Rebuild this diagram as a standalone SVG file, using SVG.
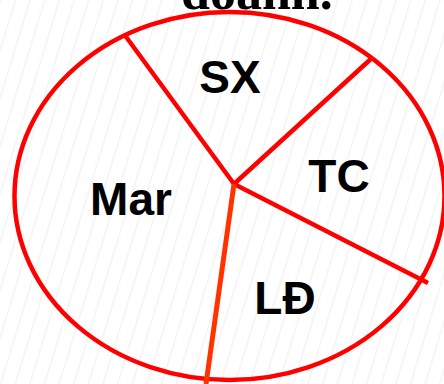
<svg xmlns="http://www.w3.org/2000/svg" width="444" height="384" viewBox="0 0 444 384">
<defs>
<pattern id="stripes" width="14" height="40" patternUnits="userSpaceOnUse" patternTransform="rotate(17)">
<rect width="14" height="40" fill="#ffffff"/>
<rect x="0" y="0" width="1.5" height="40" fill="#f3f3f3"/>
</pattern>
</defs>
<style>
.lbl{font-family:"Liberation Sans",Arial,sans-serif;font-weight:bold;font-size:46px;fill:#000;text-anchor:middle}
.seg{stroke:#ff0000;stroke-width:4.5;fill:none}
</style>
<rect width="444" height="384" fill="url(#stripes)"/>
<text x="181" y="9" font-family="'Liberation Serif','Times New Roman',serif" font-weight="bold" font-size="52" fill="#000">doanh.</text>
<g id="pie">
<ellipse cx="229.5" cy="196" rx="215" ry="184" fill="none" stroke="#ff0000" stroke-width="4.5"/>
</g>
<g id="connectors">
<line class="seg" x1="234" y1="184" x2="124" y2="34"/>
<line class="seg" x1="234" y1="184" x2="373" y2="57"/>
<line class="seg" x1="234" y1="184" x2="428" y2="283"/>
<line x1="234" y1="184" x2="206" y2="384" stroke="#ff3300" stroke-width="5"/>
</g>
<g id="sx"><text class="lbl" x="230" y="93">SX</text></g>
<g id="tc"><text class="lbl" x="339" y="192">TC</text></g>
<g id="mar"><text class="lbl" x="131" y="215">Mar</text></g>
<g id="ld"><text class="lbl" x="285" y="314">LĐ</text></g>
</svg>
